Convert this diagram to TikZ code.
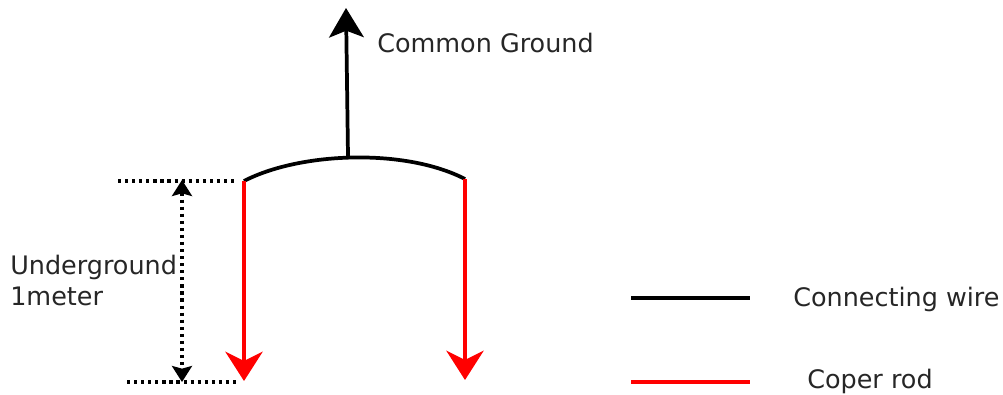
\documentclass[tikz,border=0pt]{standalone}
\usepackage{fontspec}
\setmainfont{DejaVu Sans}
\usetikzlibrary{arrows.meta}
\tikzset{
  wire/.style={line width=2.8pt, black},
  bighead/.style={-{Stealth[length=22pt,width=26pt,inset=5pt]}},
  rod/.style={line width=2.8pt, red, -{Stealth[length=22pt,width=28pt,inset=7pt]}},
  dots/.style={line width=2.4pt, dash pattern=on 2.4pt off 2.9pt, black},
  bothheads/.style={{Stealth[length=12pt,width=15pt,inset=2pt]}-{Stealth[length=12pt,width=15pt,inset=2pt]}},
  lbl/.style={anchor=base west, inner sep=0pt, font=\fontsize{19.1}{23.3}\selectfont, text=black!85},
}
\begin{document}
\begin{tikzpicture}[x=0.75pt,y=-0.75pt]
\useasboundingbox (0,0) rectangle (1003,394);
% key points
\coordinate (L) at (244,181);
\coordinate (R) at (465,179);
\coordinate (M) at (348,156);
\coordinate (Top) at (346,8);
\coordinate (Lb) at (244,381);
\coordinate (Rb) at (465,380);
\coordinate (dt1) at (118,181);
\coordinate (dt2) at (235,181);
\coordinate (db1) at (127,382);
\coordinate (db2) at (240,382);
\coordinate (va) at (182,180);
\coordinate (vb) at (182,382);
\coordinate (k1) at (631,298);
\coordinate (k2) at (750,298);
\coordinate (r1) at (631,382);
\coordinate (r2) at (750,382);
% connecting wire arc
\draw[wire] (L) .. controls (300,152) and (405,148) .. (R);
\draw[wire, bighead] (M) -- (Top);
% rods
\draw[rod] (L) -- (Lb);
\draw[rod] (R) -- (Rb);
% dotted dimension
\draw[dots] (dt1) -- (dt2);
\draw[dots] (db1) -- (db2);
\draw[dots, bothheads] (va) -- (vb);
% labels
\node[lbl] (cg) at (377,52) {Common Ground};
\node[lbl] (ug1) at (10,274) {Underground};
\node[lbl] (ug2) at (10,305) {1meter};
% legend
\draw[wire] (k1) -- (k2);
\draw[wire, red] (r1) -- (r2);
\node[lbl] (cw) at (793,306) {Connecting wire};
\node[lbl] (cr) at (807,388) {Coper rod};
\end{tikzpicture}
\end{document}
